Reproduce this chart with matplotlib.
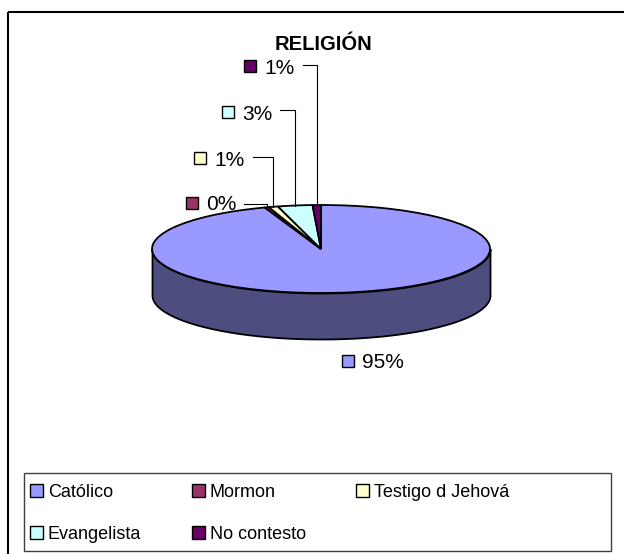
import numpy as np
import matplotlib
matplotlib.use("Agg")
import matplotlib.pyplot as plt
from matplotlib.patches import Patch, Rectangle

plt.rcParams['font.family'] = ['Liberation Sans', 'DejaVu Sans']

# data
categories = ["Católico", "Mormon", "Testigo d Jehová", "Evangelista", "No contesto"]
values = [94.6, 0.4, 0.9, 3.3, 0.8]
colors = ["#9999FF", "#993366", "#FFFFCC", "#CCFFFF", "#660066"]
side_color = "#4D4D80"
title = "RELIGIÓN"

# layout in pixels (y from top)
W, H = 624, 554
CX, CY, RX, RY, DEPTH = 321, 249, 169, 44, 46
label_pos = [(348, 361), (192, 203), (200, 158), (228, 112), (250, 66)]
leader_start = [None, (244, 204), (253, 157), (280, 110), (303, 65)]

fig = plt.figure(figsize=(W / 100, H / 100), dpi=100)

# pie axes: one data unit = RX px across, RY px down
ax = fig.add_axes([0, 0, 1, 1])
t = np.linspace(np.pi, 2 * np.pi, 300)
ax.fill_between(np.cos(t), np.sin(t) - DEPTH / RY, np.sin(t),
                facecolor=side_color, edgecolor="black", linewidth=1.3, zorder=1)
wedges, _ = ax.pie(values, colors=colors, startangle=90, counterclock=False,
                   wedgeprops=dict(edgecolor="black", linewidth=1.3, zorder=2))
ax.set_aspect("auto")
ax.set_xlim(-CX / RX, (W - CX) / RX)
ax.set_ylim(-(H - CY) / RY, CY / RY)
ax.axis("off")

# overlay axes in pixel coordinates
ov = fig.add_axes([0, 0, 1, 1])
ov.set_xlim(0, W)
ov.set_ylim(H, 0)
ov.axis("off")
ov.patch.set_alpha(0)

ov.add_patch(Rectangle((8, 12), W, H, fill=False, edgecolor="black", linewidth=1.5, clip_on=False))
ov.add_patch(Rectangle((24, 473), 587, 78, fill=False, edgecolor="#404040", linewidth=1))

ov.text(323, 50, title, ha="center", va="baseline", fontsize=14.5, fontweight="bold")

to_px = ov.transData.inverted()
for i, w in enumerate(wedges):
    sx, sy = label_pos[i]
    ov.plot(sx, sy, marker="s", markersize=8.5, markerfacecolor=colors[i],
            markeredgecolor="black", markeredgewidth=1)
    ov.text(sx + 14, sy + 7.5, f"{values[i]:.0f}%", fontsize=15, va="baseline")
    if leader_start[i] is not None:
        mid = np.deg2rad((w.theta1 + w.theta2) / 2)
        ex, ey = to_px.transform(ax.transData.transform((np.cos(mid), np.sin(mid))))
        x0, y0 = leader_start[i]
        ov.plot([x0, ex, ex], [y0, y0, ey], color="black", linewidth=0.8)

# legend, row-wise order for 3 columns
order = [0, 3, 1, 4, 2]
handles = [Patch(facecolor=colors[i], edgecolor="black", linewidth=1) for i in order]
labels = [categories[i] for i in order]
fig.legend(handles, labels, loc="upper left", bbox_to_anchor=(30 / W, 1 - 484 / H),
           ncol=3, frameon=False, fontsize=13, handlelength=0.72, handleheight=0.72,
           handletextpad=0.27, columnspacing=2.8, labelspacing=1.38,
           borderpad=0, borderaxespad=0)

fig.savefig("out.png", dpi=100, facecolor="white")
